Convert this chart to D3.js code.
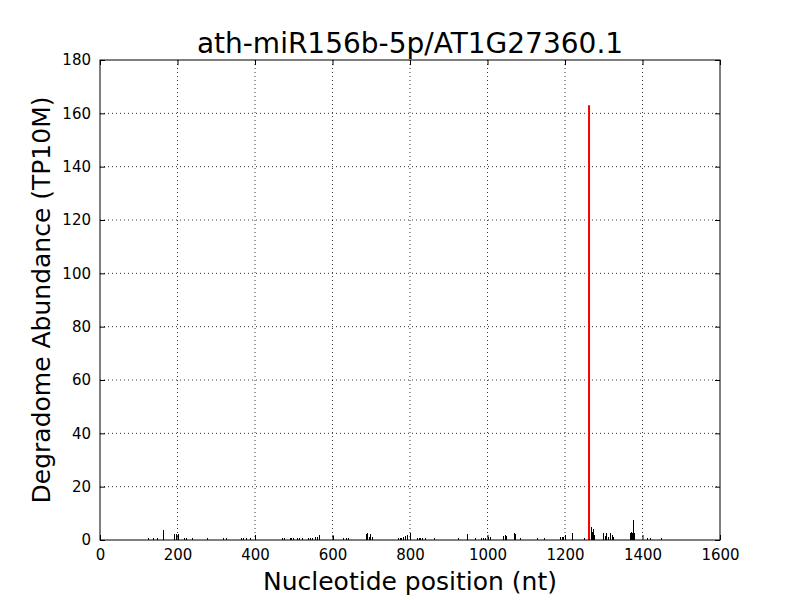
<!DOCTYPE html>
<html>
<head>
<meta charset="utf-8">
<script src="https://d3js.org/d3.v7.min.js"></script>
<style>
  body { margin: 0; background: #fff; }
  text { font-family: "DejaVu Sans", sans-serif; }
</style>
</head>
<body>
<script>
// chart data
var chartTitle = "ath-miR156b-5p/AT1G27360.1";
var xLabel = "Nucleotide position (nt)";
var yLabel = "Degradome Abundance (TP10M)";
var xTicks = [0, 200, 400, 600, 800, 1000, 1200, 1400, 1600];
var yTicks = [0, 20, 40, 60, 80, 100, 120, 140, 160, 180];

// degradome tags (black)
var positions = [125, 138, 148, 163, 191, 196, 201, 218, 222, 238, 275,
  318, 324, 365, 370, 376, 387, 401, 469, 475, 490, 494, 499, 509, 514, 520,
  538, 542, 546, 555, 559, 566, 602, 628, 635, 639, 686, 689, 693, 697, 701,
  770, 774, 778, 781, 787, 793, 800, 818, 822, 826, 831, 839, 862,
  925, 946, 968, 982, 989, 994, 1002, 1006, 1041, 1044, 1047, 1049, 1068, 1071,
  1084, 1127, 1146, 1187, 1191, 1196, 1217, 1250, 1263, 1266, 1269, 1272, 1275,
  1297, 1302, 1306, 1311, 1315, 1320, 1324, 1368, 1371, 1374, 1376, 1378,
  1411, 1419, 1448];
var abundances = [0.6, 0.6, 0.6, 3.7, 2.2, 2.2, 2.2, 0.6, 0.6, 0.6, 0.9,
  0.6, 0.6, 0.6, 0.6, 0.6, 0.6, 1.7, 0.6, 0.6, 0.6, 0.6, 0.6, 0.6, 0.6, 0.6,
  0.6, 0.6, 0.6, 1.2, 1.2, 2.0, 1.5, 0.6, 0.6, 0.6, 2.2, 2.5, 1.2, 2.2, 1.0,
  0.6, 0.9, 0.6, 1.0, 1.5, 2.0, 2.5, 0.6, 0.9, 0.6, 0.9, 0.6, 0.6,
  0.9, 2.2, 0.6, 0.6, 0.9, 0.6, 1.2, 1.2, 1.5, 2.0, 1.5, 1.0, 2.5, 2.2,
  0.6, 0.6, 0.6, 1.0, 1.0, 1.0, 2.5, 0.9, 110, 4.7, 3.0, 4.0, 2.0,
  2.5, 1.5, 2.5, 1.0, 2.5, 2.0, 1.0, 2.5, 3.0, 2.5, 7.5, 2.5,
  0.6, 0.9, 0.6];

// miRNA cleavage site (red)
var sitePositions = [1262];
var siteAbundances = [163];

var W = 800, H = 600;
var margin = {top: 60, right: 80, bottom: 60, left: 100};
var width = W - margin.left - margin.right,
    height = H - margin.top - margin.bottom;

var svg = d3.select("body").append("svg")
    .attr("width", W).attr("height", H);

var g = svg.append("g")
    .attr("transform", "translate(" + margin.left + "," + margin.top + ")");

var x = d3.scaleLinear().domain([0, 1600]).range([0, width]);
var y = d3.scaleLinear().domain([0, 180]).range([height, 0]);

// grid
g.append("g").selectAll("line").data(xTicks.slice(1, -1)).enter().append("line")
    .attr("x1", function(d){ return x(d); }).attr("x2", function(d){ return x(d); })
    .attr("y1", 0).attr("y2", height)
    .attr("stroke", "#000").attr("stroke-width", 0.8).attr("stroke-dasharray", "1,3");
g.append("g").selectAll("line").data(yTicks.slice(1, -1)).enter().append("line")
    .attr("y1", function(d){ return y(d); }).attr("y2", function(d){ return y(d); })
    .attr("x1", 0).attr("x2", width)
    .attr("stroke", "#000").attr("stroke-width", 0.8).attr("stroke-dasharray", "1,3");

// black tags
g.append("g").attr("shape-rendering", "crispEdges")
  .selectAll("line").data(positions).enter().append("line")
    .attr("x1", function(d){ return Math.round(x(d)) + 0.5; })
    .attr("x2", function(d){ return Math.round(x(d)) + 0.5; })
    .attr("y1", y(0))
    .attr("y2", function(d, i){ return y(abundances[i]); })
    .attr("stroke", "#000").attr("stroke-width", 1);

// red site
g.append("g").selectAll("line").data(sitePositions).enter().append("line")
    .attr("x1", function(d){ return x(d); }).attr("x2", function(d){ return x(d); })
    .attr("y1", y(0))
    .attr("y2", function(d, i){ return y(siteAbundances[i]); })
    .attr("stroke", "#ff0000").attr("stroke-width", 2);

// axes, ticks inside on all sides
var tickFont = 15;
var fmt = d3.format("d");
var xAxis = g.append("g").attr("transform", "translate(0," + height + ")")
    .call(d3.axisBottom(x).tickValues(xTicks).tickFormat(fmt).tickSizeInner(-5).tickSizeOuter(0).tickPadding(9));
var xTop = g.append("g")
    .call(d3.axisTop(x).tickValues(xTicks).tickSizeInner(-5).tickSizeOuter(0).tickFormat(""));
var yAxis = g.append("g")
    .call(d3.axisLeft(y).tickValues(yTicks).tickFormat(fmt).tickSizeInner(-5).tickSizeOuter(0).tickPadding(9));
var yRight = g.append("g").attr("transform", "translate(" + width + ",0)")
    .call(d3.axisRight(y).tickValues(yTicks).tickSizeInner(-5).tickSizeOuter(0).tickFormat(""));

[xAxis, xTop, yAxis, yRight].forEach(function(a){
  a.select(".domain").remove();
  a.selectAll("line").attr("stroke", "#000");
  a.selectAll("text").attr("font-size", tickFont).attr("fill", "#000")
    .attr("font-family", "DejaVu Sans");
});

// frame
g.append("rect").attr("width", width).attr("height", height)
    .attr("fill", "none").attr("stroke", "#000").attr("stroke-width", 1);

svg.append("text").attr("x", margin.left + width / 2).attr("y", 53)
    .attr("text-anchor", "middle").attr("font-size", 28).text(chartTitle);
svg.append("text").attr("x", margin.left + width / 2).attr("y", 590)
    .attr("text-anchor", "middle").attr("font-size", 25).text(xLabel);
svg.append("text")
    .attr("transform", "translate(50," + (margin.top + height / 2) + ") rotate(-90)")
    .attr("text-anchor", "middle").attr("font-size", 25).text(yLabel);
</script>
</body>
</html>
